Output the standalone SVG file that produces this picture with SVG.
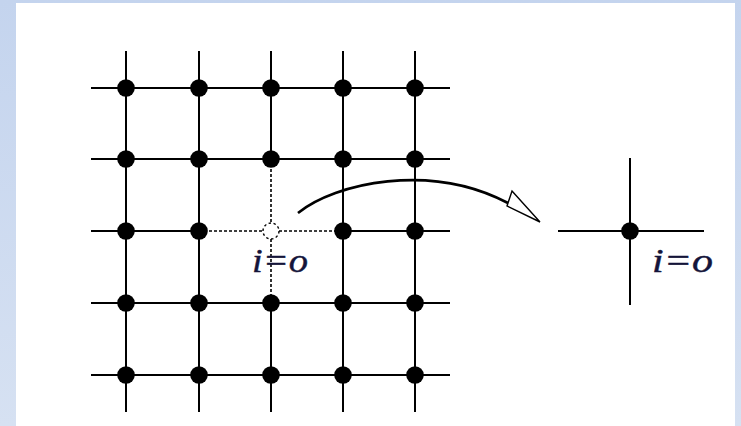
<svg xmlns="http://www.w3.org/2000/svg" width="741" height="426" viewBox="0 0 741 426">
<defs>
<linearGradient id="bg" x1="0" y1="0" x2="0" y2="1">
<stop offset="0" stop-color="#C4D4EE"/>
<stop offset="1" stop-color="#D6E1F2"/>
</linearGradient>
<style>
.g{stroke:#000;stroke-width:2;fill:none}
.d{stroke:#000;stroke-width:1.6;fill:none;stroke-dasharray:3 2}
.dot{fill:#000}
.lbl{font-family:"Liberation Serif",serif;font-style:italic;font-size:34px;fill:#14143a;stroke:#14143a;stroke-width:0.4}
</style>
</defs>
<rect x="0" y="0" width="741" height="426" fill="url(#bg)"/>
<rect x="16" y="3" width="719" height="423" fill="#fff"/>
<g id="grid-lines">
<path class="g" d="M91,88H450M91,159H450M91,231H199M343,231H450M91,303H450M91,375H450"/>
<path class="g" d="M126,51V412M199,51V412M271,51V159M271,303V412M343,51V412M415,51V412"/>
<path class="d" d="M199,231H343M271,159V303"/>
</g>
<g id="nodes">
<circle class="dot" cx="126" cy="88" r="8.8"/><circle class="dot" cx="199" cy="88" r="8.8"/><circle class="dot" cx="271" cy="88" r="8.8"/><circle class="dot" cx="343" cy="88" r="8.8"/><circle class="dot" cx="415" cy="88" r="8.8"/>
<circle class="dot" cx="126" cy="159" r="8.8"/><circle class="dot" cx="199" cy="159" r="8.8"/><circle class="dot" cx="271" cy="159" r="8.8"/><circle class="dot" cx="343" cy="159" r="8.8"/><circle class="dot" cx="415" cy="159" r="8.8"/>
<circle class="dot" cx="126" cy="231" r="8.8"/><circle class="dot" cx="199" cy="231" r="8.8"/><circle class="dot" cx="343" cy="231" r="8.8"/><circle class="dot" cx="415" cy="231" r="8.8"/>
<circle class="dot" cx="126" cy="303" r="8.8"/><circle class="dot" cx="199" cy="303" r="8.8"/><circle class="dot" cx="271" cy="303" r="8.8"/><circle class="dot" cx="343" cy="303" r="8.8"/><circle class="dot" cx="415" cy="303" r="8.8"/>
<circle class="dot" cx="126" cy="375" r="8.8"/><circle class="dot" cx="199" cy="375" r="8.8"/><circle class="dot" cx="271" cy="375" r="8.8"/><circle class="dot" cx="343" cy="375" r="8.8"/><circle class="dot" cx="415" cy="375" r="8.8"/>
</g>
<g id="removed-node">
<circle cx="271" cy="231" r="8" fill="#fff" stroke="#000" stroke-width="1.4" stroke-dasharray="2.5 2.5"/>
<text class="lbl" x="252" y="272" textLength="56" lengthAdjust="spacingAndGlyphs">i=o</text>
</g>
<g id="connectors">
<path d="M298,213 C335,183 430,162 508,203" stroke="#000" stroke-width="2.6" fill="none"/>
<path d="M512,191 L540,222 L507,206 Z" fill="#fff" stroke="#000" stroke-width="1.4" stroke-linejoin="miter"/>
</g>
<g id="single-node">
<path class="g" d="M630,158V305M558,231H704"/>
<circle class="dot" cx="630" cy="231" r="8.8"/>
<text class="lbl" x="652" y="272" textLength="61" lengthAdjust="spacingAndGlyphs">i=o</text>
</g>
</svg>
